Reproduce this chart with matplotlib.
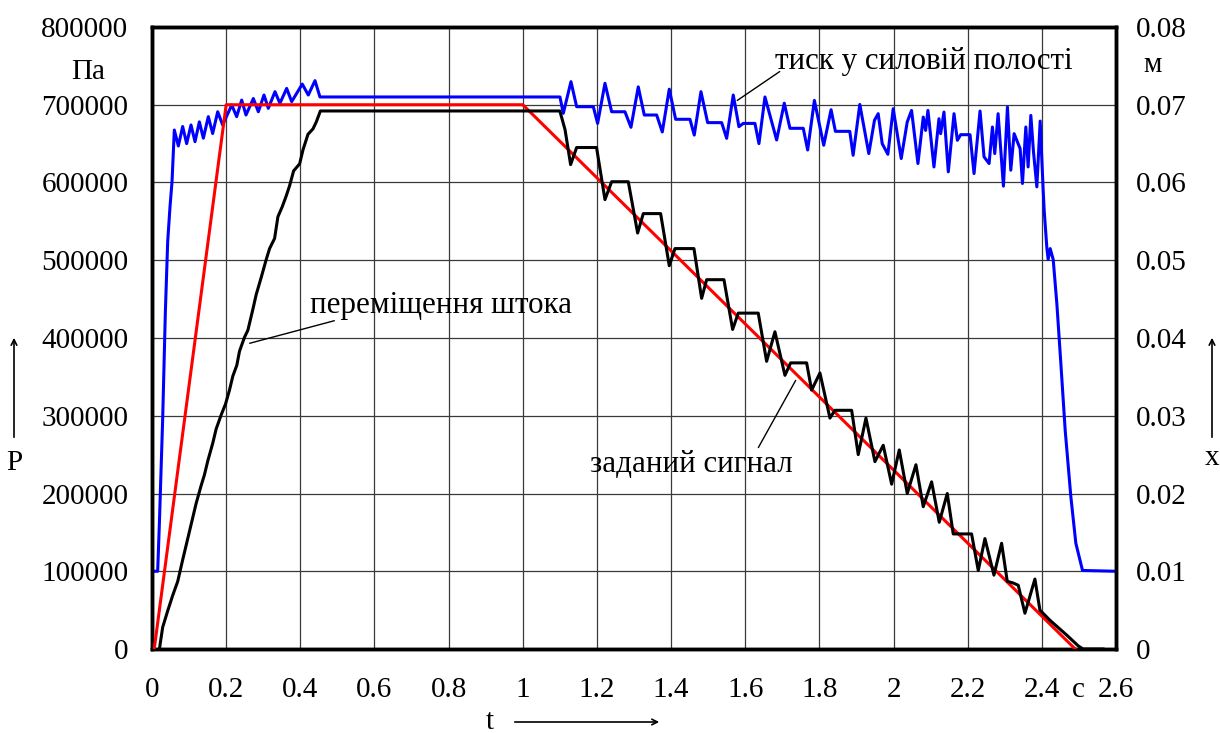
import matplotlib.pyplot as plt

# pressure in the working chamber, Pa
p_t = [0, 0.0153, 0.0198, 0.0288, 0.036, 0.0423, 0.0486, 0.054, 0.0575,
       0.0602, 0.0711, 0.0827, 0.0935, 0.1052, 0.116, 0.1277, 0.1385, 0.1519,
       0.1636, 0.1772, 0.1906, 0.215, 0.2284, 0.2419, 0.2535, 0.2733, 0.2868,
       0.302, 0.3137, 0.3317, 0.345, 0.3632, 0.3767, 0.4053, 0.4215, 0.4396,
       0.453, 1.0868, 1.1003, 1.1093, 1.13, 1.1453, 1.1902, 1.2019, 1.2217,
       1.2397, 1.2756, 1.2918, 1.3115, 1.3277, 1.3611, 1.3763, 1.3951, 1.4123,
       1.4509, 1.4625, 1.4806, 1.4986, 1.5364, 1.5499, 1.5677, 1.583, 1.5947,
       1.6262, 1.637, 1.6532, 1.6847, 1.7053, 1.7206, 1.7565, 1.7684, 1.7865,
       1.8117, 1.8315, 1.8432, 1.882, 1.891, 1.909, 1.9333, 1.9486, 1.9586,
       1.9694, 1.9847, 1.9991, 2.0207, 2.0369, 2.0486, 2.0658, 2.0802, 2.0865,
       2.0928, 2.109, 2.1225, 2.127, 2.136, 2.1477, 2.1631, 2.1721, 2.1811,
       2.2063, 2.2171, 2.2333, 2.2441, 2.2577, 2.2667, 2.273, 2.282, 2.2964,
       2.3072, 2.3162, 2.3252, 2.3414, 2.3477, 2.3568, 2.363, 2.3703, 2.3775,
       2.3865, 2.3955, 2.4036, 2.4063, 2.4135, 2.417, 2.4225, 2.4306, 2.4405,
       2.4513, 2.463, 2.4782, 2.4917, 2.5097, 2.6]
p_val = [100000, 100000, 160000, 296000, 433000, 524000, 569000, 601000, 640000,
         667500, 647000, 672000, 650000, 674000, 652500, 678000, 657000, 684700,
         663000, 691000, 674000, 699700, 684700, 706000, 686800, 708000, 691000,
         712500, 695400, 716800, 701800, 721000, 704000, 726600, 712500, 731000,
         710000, 710000, 710000, 689000, 729700, 697500, 697500, 676000, 727600,
         691000, 691000, 671000, 723000, 686800, 686800, 665000, 720000, 681300,
         681300, 661000, 716800, 677000, 677000, 656800, 712500, 671800, 676000,
         676000, 650000, 710000, 654700, 702000, 669700, 669700, 641800, 705600,
         647900, 693600, 665800, 665800, 635000, 700400, 637200, 680000, 688500,
         650000, 636300, 694900, 630800, 677800, 692700, 624400, 684200, 667000,
         692700, 620000, 682000, 662800, 690600, 613700, 688500, 654300, 661500,
         661500, 611500, 691900, 633000, 624400, 671400, 637200, 688500, 595300,
         697000, 615800, 662800, 643600, 598700, 671400, 620000, 686300, 639300,
         594400, 679000, 590000, 564000, 516000, 501000, 515000, 501000, 444000,
         367000, 281000, 196000, 136000, 101000, 100000]

# set-point signal, m
r_t = [0.006, 0.2, 1.0, 2.49]
r_x = [0, 0.07, 0.07, 0]

# rod displacement, m
b_t = [0.02, 0.0288, 0.0423, 0.0559, 0.0694, 0.0829, 0.0919, 0.1054, 0.1189,
       0.1324, 0.1414, 0.1505, 0.164, 0.173, 0.1865, 0.1982, 0.209, 0.218,
       0.2288, 0.236, 0.2495, 0.2586, 0.2721, 0.2811, 0.2946, 0.3081, 0.3171,
       0.3306, 0.3396, 0.3514, 0.3622, 0.3712, 0.382, 0.3982, 0.4072, 0.4207,
       0.4342, 0.4432, 0.4541,
       1.10, 1.114, 1.129, 1.1453, 1.199, 1.2217, 1.2397, 1.2846, 1.3098, 1.325,
       1.3718, 1.3951, 1.4105, 1.4617, 1.4824, 1.4959, 1.5426, 1.566, 1.5812,
       1.6351, 1.6577, 1.6801, 1.7071, 1.7224, 1.7656, 1.779, 1.8015, 1.8285,
       1.842, 1.887, 1.9048, 1.9256, 1.9498, 1.9722, 1.9949, 2.0154, 2.037,
       2.0604, 2.0801, 2.1027, 2.1233, 2.1449, 2.161, 2.2105, 2.2285, 2.2465,
       2.2708, 2.2915, 2.3067, 2.322, 2.3363, 2.3544, 2.3813, 2.3948, 2.4218,
       2.4668, 2.4982, 2.511, 2.565]
b_x = [0, 0.0028, 0.0049, 0.0069, 0.0087, 0.0115, 0.0133, 0.016, 0.0187,
       0.021, 0.0224, 0.0242, 0.0265, 0.0283, 0.0301, 0.0315, 0.0333, 0.0351,
       0.0365, 0.0383, 0.0401, 0.041, 0.0437, 0.0456, 0.0478, 0.0501, 0.0515,
       0.0528, 0.0556, 0.0569, 0.0583, 0.0596, 0.0615, 0.0624, 0.0642, 0.0662,
       0.0669, 0.0678, 0.0692,
       0.0692, 0.0668, 0.0623, 0.0645, 0.0645, 0.0578, 0.0601, 0.0601, 0.0535, 0.056,
       0.056, 0.0493, 0.0515, 0.0515, 0.0451, 0.0475, 0.0475, 0.0411, 0.0432,
       0.0432, 0.037, 0.0408, 0.0352, 0.0368, 0.0368, 0.0333, 0.0355, 0.0297,
       0.0307, 0.0307, 0.025, 0.0297, 0.0241, 0.0262, 0.0212, 0.0256, 0.02,
       0.0237, 0.0183, 0.0215, 0.0163, 0.02, 0.0148, 0.0148, 0.0101, 0.0142,
       0.0095, 0.0136, 0.0087, 0.0085, 0.0082, 0.0046, 0.009, 0.005, 0.0037,
       0.0018, 0.0004, 0.0, 0.0]

x_ticks = [0, 0.2, 0.4, 0.6, 0.8, 1, 1.2, 1.4, 1.6, 1.8, 2, 2.2, 2.4, 2.6]
x_labels = ["0", "0.2", "0.4", "0.6", "0.8", "1", "1.2", "1.4", "1.6", "1.8",
            "2", "2.2", "2.4", "2.6"]
p_ticks = [0, 100000, 200000, 300000, 400000, 500000, 600000, 700000, 800000]
x_m_ticks = [0, 0.01, 0.02, 0.03, 0.04, 0.05, 0.06, 0.07, 0.08]
x_m_labels = ["0", "0.01", "0.02", "0.03", "0.04", "0.05", "0.06", "0.07", "0.08"]

plt.rcParams['font.family'] = ['Liberation Serif', 'DejaVu Serif']
W, H = 1220, 733
fig = plt.figure(figsize=(12.2, 7.33), dpi=100)
ax = fig.add_axes([152 / W, 1 - 649 / H, (1116 - 152) / W, (649 - 27) / H])
ax2 = ax.twinx()

ax.set_xlim(0, 2.6)
ax.set_ylim(0, 800000)
ax2.set_ylim(0, 0.08)

ax.set_xticks(x_ticks)
ax.set_xticklabels(x_labels)
ax.set_yticks(p_ticks)
ax.set_yticklabels([str(v) for v in p_ticks])
ax2.set_yticks(x_m_ticks)
ax2.set_yticklabels(x_m_labels)

ax.grid(True, color='#3a3a3a', linewidth=0.9)
ax.set_axisbelow(True)
ax.tick_params(axis='both', length=0, labelsize=21)
ax.tick_params(axis='y', pad=17)
ax.tick_params(axis='x', pad=20)
ax2.tick_params(axis='y', length=0, labelsize=21, pad=14)
for a in (ax, ax2):
    for s in a.spines.values():
        s.set_linewidth(2.5)

ax.plot(p_t, p_val, color='#0000ff', linewidth=2.2, zorder=3,
        solid_joinstyle='round')
ax2.plot(r_t, r_x, color='#ff0000', linewidth=2.2, zorder=3)
ax2.plot(b_t, b_x, color='black', linewidth=2.2, zorder=4,
         solid_joinstyle='round')


def fx(px):
    return px / W


def fy(py):
    return 1 - py / H


fs = 21
afs = 22.3
fig.text(fx(88), fy(72), "Па", fontsize=fs, ha='center', va='center')
fig.text(fx(1153), fy(65), "м", fontsize=fs, ha='center', va='center')
fig.text(fx(14), fy(463), "P", fontsize=fs, ha='center', va='center')
fig.text(fx(1212), fy(458), "x", fontsize=fs, ha='center', va='center')
fig.text(fx(490), fy(722), "t", fontsize=fs, ha='center', va='center')
fig.text(fx(1078), fy(690), "c", fontsize=fs, ha='center', va='center')

arrow = dict(arrowstyle='->', color='black', linewidth=1.2)
fig.add_artist(plt.Annotation("", xy=(fx(14), fy(335)), xytext=(fx(14), fy(440)),
                              xycoords='figure fraction', arrowprops=arrow))
fig.add_artist(plt.Annotation("", xy=(fx(1212), fy(335)), xytext=(fx(1212), fy(440)),
                              xycoords='figure fraction', arrowprops=arrow))
fig.add_artist(plt.Annotation("", xy=(fx(662), fy(722)), xytext=(fx(512), fy(722)),
                              xycoords='figure fraction', arrowprops=arrow))

lead = dict(arrowstyle='-', color='black', linewidth=1.0)
fig.text(fx(775), fy(62), "тиск у силовій полості", fontsize=afs, ha='left', va='center')
fig.add_artist(plt.Annotation("", xy=(fx(735), fy(102)), xytext=(fx(782), fy(70)),
                              xycoords='figure fraction', arrowprops=lead))
fig.text(fx(310), fy(305), "переміщення штока", fontsize=afs, ha='left', va='center')
fig.add_artist(plt.Annotation("", xy=(fx(247), fy(344)), xytext=(fx(337), fy(320)),
                              xycoords='figure fraction', arrowprops=lead))
fig.text(fx(590), fy(465), "заданий сигнал", fontsize=afs, ha='left', va='center')
fig.add_artist(plt.Annotation("", xy=(fx(797), fy(378)), xytext=(fx(757), fy(450)),
                              xycoords='figure fraction', arrowprops=lead))

fig.savefig("out.png", dpi=100)
